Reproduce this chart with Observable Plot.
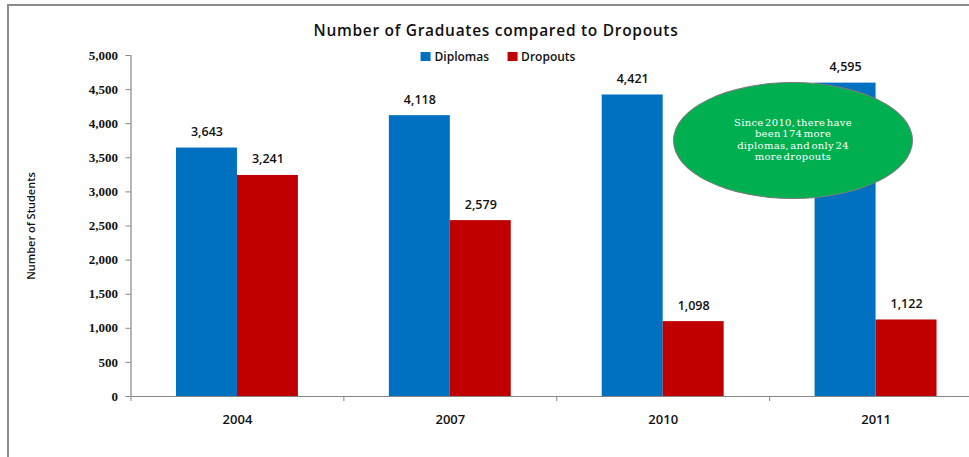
<!DOCTYPE html>
<html>
<head>
<meta charset="utf-8">
<script src="https://cdn.jsdelivr.net/npm/d3@7"></script>
<script src="https://cdn.jsdelivr.net/npm/@observablehq/plot@0.6"></script>
<style>
  body { margin: 0; background: #fff; }
  #wrap { position: relative; width: 969px; height: 457px; overflow: hidden; background: #fff; font-family: "Open Sans", sans-serif; }
  #border { position: absolute; left: 7px; top: 4px; width: 980px; height: 470px; border-top: 2px solid #8c8c8c; border-left: 2px solid #8c8c8c; box-sizing: border-box; }
  #chart { position: absolute; left: 0; top: 0; }
  #title { position: absolute; top: 19px; left: 496px; transform: translateX(-50%); white-space: nowrap; font-size: 15.5px; font-weight: 600; color: #111; letter-spacing: 0.7px; }
  #legend { position: absolute; top: 48px; left: 498px; transform: translateX(-50%); white-space: nowrap; font-size: 12px; font-weight: 600; color: #111; display: flex; align-items: center; }
  .sw { display: inline-block; width: 10px; height: 9px; margin-right: 4px; }
  .item { display: inline-flex; align-items: center; margin: 0 9px; }
  #note { position: absolute; left: 673px; top: 82px; width: 240px; height: 117px; border-radius: 50%; background: #00B050; border: 1px solid #7a7a7a; box-sizing: border-box; display: flex; align-items: center; justify-content: center; text-align: center; color: #fff; font-family: "DejaVu Serif", serif; font-size: 10px; line-height: 11.5px; letter-spacing: 0.3px; word-spacing: -2px; padding-bottom: 2px; }
  g[aria-label="y-axis tick label"] text { font-family: "Liberation Serif", serif; font-weight: 700; font-size: 13px; }
  g[aria-label="y-axis label"] text { font-size: 11px; font-weight: 600; }
</style>
</head>
<body>
<div id="wrap">
  <div id="chart"></div>
  <div id="border"></div>
  <div id="title"></div>
  <div id="legend"></div>
  <div id="note"></div>
</div>
<script>
// ---- data ----
const years = ["2004", "2007", "2010", "2011"];
const diplomas = [3643, 4118, 4421, 4595];
const dropouts = [3241, 2579, 1098, 1122];
const seriesNames = ["Diplomas", "Dropouts"];
const seriesColors = ["#0070C0", "#C00000"];
const yTicks = [0, 500, 1000, 1500, 2000, 2500, 3000, 3500, 4000, 4500, 5000];
const titleText = "Number of Graduates compared to Dropouts";
const yLabel = "Number of Students";
const noteLines = ["Since 2010, there have", "been 174 more", "diplomas, and only 24", "more dropouts"];

// ---- layout ----
const xStart = 130.5, xEnd = 982;
const step = (xEnd - xStart) / years.length;
const padInner = 0.4272;
const bw = step * (1 - padInner);
const half = bw / 2;

const rowsD = years.map((y, i) => ({year: y, series: seriesNames[0], value: diplomas[i]}));
const rowsR = years.map((y, i) => ({year: y, series: seriesNames[1], value: dropouts[i]}));
const fmt = d3.format(",");
const axisGray = "#868686";

const chart = Plot.plot({
  width: 969,
  height: 457,
  marginLeft: xStart,
  marginRight: 0,
  marginTop: 55,
  marginBottom: 61,
  style: {fontFamily: "Open Sans, sans-serif", background: "transparent"},
  x: {domain: years, range: [xStart, xEnd], paddingInner: padInner, paddingOuter: padInner / 2, round: false},
  y: {domain: [0, 5000]},
  marks: [
    Plot.barY(rowsD, {x: "year", y: "value", fill: seriesColors[0], insetRight: half}),
    Plot.barY(rowsR, {x: "year", y: "value", fill: seriesColors[1], insetLeft: half}),
    Plot.text(rowsD, {x: "year", y: "value", text: d => fmt(d.value), dx: -half / 2, dy: -16, fontSize: 12.5, fontWeight: 600, fill: "#111"}),
    Plot.text(rowsR, {x: "year", y: "value", text: d => fmt(d.value), dx: half / 2, dy: -16, fontSize: 12.5, fontWeight: 600, fill: "#111"}),
    Plot.ruleY([0], {stroke: axisGray, strokeWidth: 1.2}),
    Plot.ruleX(years, {x: d => d, dx: -step / 2, y1: 0, y2: 0, insetBottom: -5, stroke: axisGray}),
    Plot.ruleX([years[0]], {x: d => d, dx: -step / 2, y1: 0, y2: 5000, stroke: axisGray, strokeWidth: 1.2}),
    Plot.axisY({
      ticks: yTicks,
      tickFormat: fmt,
      tickSize: 5,
      tickPadding: 8,
      stroke: axisGray,
      fill: "#111",
      label: yLabel,
      labelAnchor: "center",
      labelArrow: "none",
      labelOffset: 104
    }),
    Plot.axisX({
      tickSize: 0,
      tickPadding: 18,
      fontSize: 13,
      fontWeight: 600,
      fill: "#111",
      label: null
    })
  ]
});
document.getElementById("chart").appendChild(chart);

document.getElementById("title").textContent = titleText;
const legend = document.getElementById("legend");
seriesNames.forEach((s, i) => {
  const item = document.createElement("span");
  item.className = "item";
  const sw = document.createElement("span");
  sw.className = "sw";
  sw.style.background = seriesColors[i];
  item.appendChild(sw);
  item.appendChild(document.createTextNode(s));
  legend.appendChild(item);
});
document.getElementById("note").innerHTML = noteLines.join("<br>");
</script>
</body>
</html>
